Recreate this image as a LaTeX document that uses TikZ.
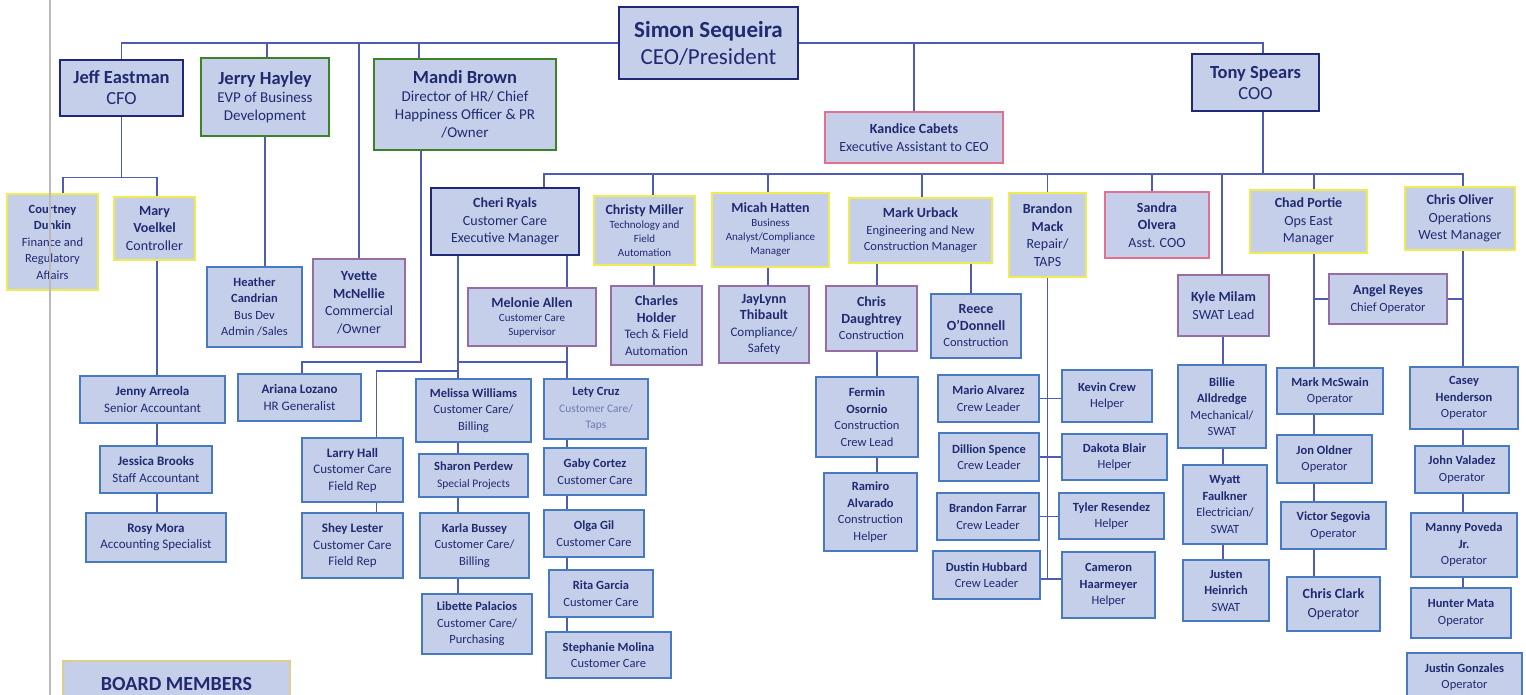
\documentclass[tikz,border=0pt]{standalone}
\usepackage{fontspec}
\setmainfont{Carlito}
\usetikzlibrary{positioning}
\definecolor{boxfill}{RGB}{198,207,234}
\definecolor{ink}{RGB}{32,42,112}
\definecolor{softink}{RGB}{110,122,172}
\definecolor{wire}{RGB}{78,92,182}
\definecolor{navyline}{RGB}{32,40,120}
\definecolor{greenline}{RGB}{60,130,40}
\definecolor{yellowline}{RGB}{238,236,80}
\definecolor{pinkline}{RGB}{226,112,142}
\definecolor{purpleline}{RGB}{150,110,165}
\definecolor{blueline}{RGB}{72,122,192}
\definecolor{boardline}{RGB}{222,206,140}
\definecolor{margin}{RGB}{185,185,190}
\tikzstyle{block} = [draw, rectangle, fill=boxfill, text=ink, align=center, inner sep=1pt]
\tikzstyle{chief} = [block, draw=navyline, line width=1.8pt]
\tikzstyle{vp} = [block, draw=greenline, line width=1.8pt]
\tikzstyle{mgr} = [block, draw=yellowline, line width=1.6pt]
\tikzstyle{asst} = [block, draw=pinkline, line width=1.4pt]
\tikzstyle{lead} = [block, draw=purpleline, line width=1.4pt]
\tikzstyle{staff} = [block, draw=blueline, line width=1.4pt]
\tikzstyle{link} = [draw=wire, line width=1.2pt]
\tikzstyle{fA} = [font=\fontsize{23}{27}\selectfont]
\tikzstyle{fB} = [font=\fontsize{18.5}{21}\selectfont]
\tikzstyle{fC} = [font=\fontsize{15}{18}\selectfont]
\tikzstyle{fD} = [font=\fontsize{14}{17.5}\selectfont]
\tikzstyle{fE} = [font=\fontsize{13}{16.5}\selectfont]
\tikzstyle{fF} = [font=\fontsize{12.5}{16.5}\selectfont]
\tikzstyle{fG} = [font=\fontsize{11}{14}\selectfont]
\tikzset{wh/.style 2 args={minimum width=#1, minimum height=#2}}
\newcommand{\bigname}[1]{{\fontsize{18.5}{21}\selectfont\bfseries #1}}
\newcommand{\midname}[1]{{\fontsize{14}{17}\selectfont\bfseries #1}}
\newcommand{\smtitle}[1]{{\fontsize{11.5}{14}\selectfont #1}}

\begin{document}
\begin{tikzpicture}[x=1pt, y=-1pt]
\useasboundingbox (0,0) rectangle (1526,695);
\clip (0,0) rectangle (1526,695);

% top level
\node [chief, fA, wh={179}{72}] (simon) at (708.5,43) {\textbf{Simon Sequeira}\\CEO/President};
\node [chief, fB, wh={123}{56}] (jeff) at (121.5,88) {\textbf{Jeff Eastman}\\CFO};
\node [vp, fC, wh={128}{78}] (jerry) at (265,97) {\bigname{Jerry Hayley}\\EVP of Business\\Development};
\node [vp, fC, wh={182}{91}] (mandi) at (465,104.5) {\bigname{Mandi Brown}\\Director of HR/ Chief\\Happiness Officer \& PR\\/Owner};
\node [asst, fD, wh={178}{51}] (kandice) at (914,137.5) {\textbf{Kandice Cabets}\\Executive Assistant to CEO};
\node [chief, fB, wh={127}{57}] (tony) at (1255.5,82.5) {\textbf{Tony Spears}\\COO};

% finance
\node [mgr, fF, wh={91}{96}] (courtney) at (52.5,242) {\textbf{Courtney}\\\textbf{Dunkin}\\Finance and\\Regulatory\\Affairs};
\node [mgr, fD, wh={81}{63}] (mary) at (154.5,228.5) {\textbf{Mary}\\\textbf{Voelkel}\\Controller};
\node [staff, fE, wh={145}{47}] (jenny) at (152.5,399.5) {\textbf{Jenny Arreola}\\Senior Accountant};
\node [staff, fE, wh={112}{47}] (jessica) at (156,469.5) {\textbf{Jessica Brooks}\\Staff Accountant};
\node [staff, fE, wh={140}{49}] (rosy) at (156,537.5) {\textbf{Rosy Mora}\\Accounting Specialist};

% business development and HR
\node [staff, fF, wh={95}{80}] (heather) at (254.5,307) {\textbf{Heather}\\\textbf{Candrian}\\Bus Dev\\Admin /Sales};
\node [lead, fD, wh={92}{88}] (yvette) at (359,303) {\textbf{Yvette}\\\textbf{McNellie}\\Commercial\\/Owner};
\node [staff, fE, wh={123}{47}] (ariana) at (299.5,397.5) {\textbf{Ariana Lozano}\\HR Generalist};

% customer care
\node [chief, fD, wh={148}{67}] (cheri) at (505,221.5) {\textbf{Cheri Ryals}\\Customer Care\\Executive Manager};
\node [lead, fG, wh={128}{58}] (melonie) at (532,317) {\midname{Melonie Allen}\\Customer Care\\Supervisor};
\node [staff, fE, wh={101}{64}] (larry) at (352.5,470) {\textbf{Larry Hall}\\Customer Care\\Field Rep};
\node [staff, fE, wh={101}{65}] (shey) at (352.5,545.5) {\textbf{Shey Lester}\\Customer Care\\Field Rep};
\node [staff, fF, wh={115}{63}] (melissa) at (473.5,410.5) {\textbf{Melissa Williams}\\Customer Care/\\Billing};
\node [staff, fF, wh={109}{43}] (sharon) at (473.5,475.5) {\textbf{Sharon Perdew}\\\smtitle{Special Projects}};
\node [staff, fF, wh={109}{65}] (karla) at (474.5,545.5) {\textbf{Karla Bussey}\\Customer Care/\\Billing};
\node [staff, fF, wh={110}{60}] (libette) at (477,624) {\textbf{Libette Palacios}\\Customer Care/\\Purchasing};
\node [staff, fF, wh={104}{60}] (lety) at (596,409) {\textbf{Lety Cruz}\\\textcolor{softink}{\smtitle{Customer Care/}}\\\textcolor{softink}{\smtitle{Taps}}};
\node [staff, fF, wh={102}{47}] (gaby) at (595,471.5) {\textbf{Gaby Cortez}\\Customer Care};
\node [staff, fF, wh={100}{47}] (olga) at (594,533.5) {\textbf{Olga Gil}\\Customer Care};
\node [staff, fF, wh={104}{47}] (rita) at (601,593.5) {\textbf{Rita Garcia}\\Customer Care};
\node [staff, fF, wh={125}{46}] (stephanie) at (608.5,655) {\textbf{Stephanie Molina}\\Customer Care};

% technology and compliance
\node [mgr, fG, wh={101}{69}] (christy) at (644.5,230.5) {\midname{Christy Miller}\\Technology and\\Field\\Automation};
\node [lead, fE, wh={91}{79}] (charles) at (656.5,325.5) {\midname{Charles}\\\midname{Holder}\\Tech \& Field\\Automation};
\node [mgr, fG, wh={117}{74}] (micah) at (770.5,230) {\midname{Micah Hatten}\\Business\\Analyst/Compliance\\Manager};
\node [lead, fE, wh={90}{77}] (jaylynn) at (764,324.5) {\midname{JayLynn}\\\midname{Thibault}\\Compliance/\\Safety};

% construction
\node [mgr, fF, wh={143}{65}] (urback) at (920.5,230.5) {\midname{Mark Urback}\\Engineering and New\\Construction Manager};
\node [lead, fF, wh={91}{65}] (daughtrey) at (871.5,318.5) {\midname{Chris}\\\midname{Daughtrey}\\Construction};
\node [staff, fF, wh={90}{64}] (reece) at (976,326) {\midname{Reece}\\\midname{O'Donnell}\\Construction};
\node [staff, fF, wh={102}{80}] (fermin) at (867,417) {\textbf{Fermin}\\\textbf{Osornio}\\Construction\\Crew Lead};
\node [staff, fF, wh={93}{78}] (ramiro) at (870.5,512) {\textbf{Ramiro}\\\textbf{Alvarado}\\Construction\\Helper};

% repair crews
\node [mgr, fD, wh={77}{84}] (bmack) at (1047.5,235) {\textbf{Brandon}\\\textbf{Mack}\\Repair/\\TAPS};
\node [staff, fF, wh={101}{47}] (mario) at (988.5,398.5) {\textbf{Mario Alvarez}\\Crew Leader};
\node [staff, fF, wh={90}{52}] (kevin) at (1107,396) {\textbf{Kevin Crew}\\Helper};
\node [staff, fF, wh={100}{48}] (dillion) at (989,457) {\textbf{Dillion Spence}\\Crew Leader};
\node [staff, fF, wh={105}{46}] (dakota) at (1114.5,457) {\textbf{Dakota Blair}\\Helper};
\node [staff, fF, wh={102}{47}] (bfarrar) at (988,516.5) {\textbf{Brandon Farrar}\\Crew Leader};
\node [staff, fF, wh={105}{46}] (tyler) at (1111.5,516) {\textbf{Tyler Resendez}\\Helper};
\node [staff, fF, wh={107}{48}] (dustin) at (986.5,575) {\textbf{Dustin Hubbard}\\Crew Leader};
\node [staff, fF, wh={93}{66}] (cameron) at (1108.5,585) {\textbf{Cameron}\\\textbf{Haarmeyer}\\Helper};

% operations
\node [asst, fD, wh={104}{66}] (sandra) at (1157,225) {\textbf{Sandra}\\\textbf{Olvera}\\Asst. COO};
\node [lead, fD, wh={91}{61}] (kyle) at (1223.5,305.5) {\textbf{Kyle Milam}\\SWAT Lead};
\node [staff, fF, wh={88}{83}] (billie) at (1222,406.5) {\textbf{Billie}\\\textbf{Alldredge}\\Mechanical/\\SWAT};
\node [staff, fF, wh={84}{79}] (wyatt) at (1225,504.5) {\textbf{Wyatt}\\\textbf{Faulkner}\\Electrician/\\SWAT};
\node [staff, fF, wh={86}{61}] (justen) at (1226,590.5) {\textbf{Justen}\\\textbf{Heinrich}\\SWAT};
\node [mgr, fD, wh={117}{63}] (chad) at (1308.5,221.5) {\textbf{Chad Portie}\\Ops East\\Manager};
\node [lead, fF, wh={118}{50}] (angel) at (1388,299) {\midname{Angel Reyes}\\Chief Operator};
\node [staff, fF, wh={106}{46}] (mcswain) at (1330,391) {\textbf{Mark McSwain}\\Operator};
\node [staff, fF, wh={95}{48}] (oldner) at (1324.5,459) {\textbf{Jon Oldner}\\Operator};
\node [staff, fF, wh={105}{47}] (segovia) at (1333.5,525.5) {\textbf{Victor Segovia}\\Operator};
\node [staff, fD, wh={93}{54}] (clark) at (1333.5,604) {\textbf{Chris Clark}\\[2pt]Operator};
\node [mgr, fD, wh={110}{63}] (coliver) at (1460,218.5) {\textbf{Chris Oliver}\\Operations\\West Manager};
\node [staff, fF, wh={108}{62}] (casey) at (1464,398) {\textbf{Casey}\\\textbf{Henderson}\\Operator};
\node [staff, fF, wh={94}{47}] (valadez) at (1462,469.5) {\textbf{John Valadez}\\Operator};
\node [staff, fF, wh={106}{64}] (manny) at (1464,545) {\textbf{Manny Poveda}\\\textbf{Jr.}\\Operator};
\node [staff, fF, wh={100}{50}] (hunter) at (1461,613) {\textbf{Hunter Mata}\\Operator};
\node [staff, fF, wh={115}{48}] (justin) at (1464.5,677) {\textbf{Justin Gonzales}\\Operator};

\node [block, draw=boardline, line width=1.4pt, font=\fontsize{20}{24}\selectfont\bfseries, wh={227}{46}] (board) at (176.5,684) {BOARD MEMBERS};

% column and junction points
\coordinate (xfin) at (157,0);
\coordinate (xcc) at (458,0);
\coordinate (xsup) at (567,0);
\coordinate (xfield) at (376.5,0);
\coordinate (xtech) at (654,0);
\coordinate (xcomp) at (768,0);
\coordinate (xcons) at (877,0);
\coordinate (xreece) at (971,0);
\coordinate (xswat) at (1223,0);
\coordinate (xeast) at (1314,0);
\coordinate (xwest) at (1463,0);
\coordinate (tb) at (1263,174);
\coordinate (ccj) at (458,362);
\coordinate (supj) at (567,362);
\coordinate (fieldj) at (458,371);
\coordinate (crewend) at (1047.5,579);

% CEO line
\draw [link] (simon.west) -| (jeff.north);
\draw [link] (simon.west) -| ([xshift=2]jerry.north);
\draw [link] (simon.west) -| (yvette.north);
\draw [link] (simon.west) -| ([xshift=-46]mandi.north);
\draw [link] (simon.east) -| (kandice.north);
\draw [link] (simon.east) -| ([xshift=7.5]tony.north);

% finance
\draw [link] (jeff.south) -- ++(0,61) -| ([xshift=10.5]courtney.north);
\draw [link] (jeff.south) -- ++(0,61) -| ([xshift=2.5]mary.north);
\draw [link] (mary.south -| xfin) -- (jenny.north -| xfin);
\draw [link] (jenny.south -| xfin) -- (jessica.north -| xfin);
\draw [link] (jessica.south -| xfin) -- (rosy.north -| xfin);

% business development and HR
\draw [link] (jerry.south) -- (jerry.south |- heather.north);
\draw [link] ([xshift=-44]mandi.south) -- ++(0,211) -| ([xshift=2.5]ariana.north);

% COO line
\draw [link] ([xshift=7.5]tony.south) -- (tb);
\draw [link] (tb) -| ([xshift=39]cheri.north);
\draw [link] (tb) -| ([xshift=8.5]christy.north);
\draw [link] (tb) -| ([xshift=-2.5]micah.north);
\draw [link] (tb) -| ([xshift=1.5]urback.north);
\draw [link] (tb) -| (bmack.north);
\draw [link] (tb) -| ([xshift=-5]sandra.north);
\draw [link] (tb) -| ([xshift=-1.5]kyle.north);
\draw [link] (tb) -| ([xshift=5.5]chad.north);
\draw [link] (tb) -| ([xshift=3]coliver.north);

% customer care
\draw [link] (cheri.south -| xcc) -- (melissa.north -| xcc);
\draw [link] (cheri.south -| xsup) -- (melonie.north -| xsup);
\draw [link] (melonie.south -| xsup) -- (lety.north -| xsup);
\draw [link] (ccj) -- (supj);
\draw [link] (fieldj) -| (larry.north -| xfield);
\draw [link] (larry.south -| xfield) -- (shey.north -| xfield);
\draw [link] (melissa.south -| xcc) -- (sharon.north -| xcc);
\draw [link] (sharon.south -| xcc) -- (karla.north -| xcc);
\draw [link] (karla.south -| xcc) -- (libette.north -| xcc);
\draw [link] (lety.south -| xsup) -- (gaby.north -| xsup);
\draw [link] (gaby.south -| xsup) -- (olga.north -| xsup);
\draw [link] (olga.south -| xsup) -- (rita.north -| xsup);
\draw [link] (rita.south -| xsup) -- (stephanie.north -| xsup);

% technology and compliance
\draw [link] (christy.south -| xtech) -- (charles.north -| xtech);
\draw [link] (micah.south -| xcomp) -- (jaylynn.north -| xcomp);

% construction
\draw [link] (urback.south -| xcons) -- (daughtrey.north -| xcons);
\draw [link] (urback.south -| xreece) -- (reece.north -| xreece);
\draw [link] (daughtrey.south -| xcons) -- (fermin.north -| xcons);
\draw [link] (fermin.south -| xcons) -- (ramiro.north -| xcons);

% repair crews
\draw [link] (bmack.south) -- (crewend);
\draw [link] (mario.east) -- (mario.east -| kevin.west);
\draw [link] (dillion.east) -- (dillion.east -| dakota.west);
\draw [link] (bfarrar.east) -- (bfarrar.east -| tyler.west);
\draw [link] (dustin.east |- crewend) -- (cameron.west |- crewend);

% operations
\draw [link] (kyle.south -| xswat) -- (billie.north -| xswat);
\draw [link] (billie.south -| xswat) -- (wyatt.north -| xswat);
\draw [link] (wyatt.south -| xswat) -- (justen.north -| xswat);
\draw [link] (chad.south -| xeast) -- (mcswain.north -| xeast);
\draw [link] (angel.west) -- (angel.west -| xeast);
\draw [link] (angel.east) -- (angel.east -| xwest);
\draw [link] (mcswain.south -| xeast) -- (oldner.north -| xeast);
\draw [link] (oldner.south -| xeast) -- (segovia.north -| xeast);
\draw [link] (segovia.south -| xeast) -- (clark.north -| xeast);
\draw [link] (coliver.south -| xwest) -- (casey.north -| xwest);
\draw [link] (casey.south -| xwest) -- (valadez.north -| xwest);
\draw [link] (valadez.south -| xwest) -- (manny.north -| xwest);
\draw [link] (manny.south -| xwest) -- (hunter.north -| xwest);

% page edge
\draw [margin, line width=1.2pt] (50,0) -- (50,695);
\end{tikzpicture}
\end{document}
